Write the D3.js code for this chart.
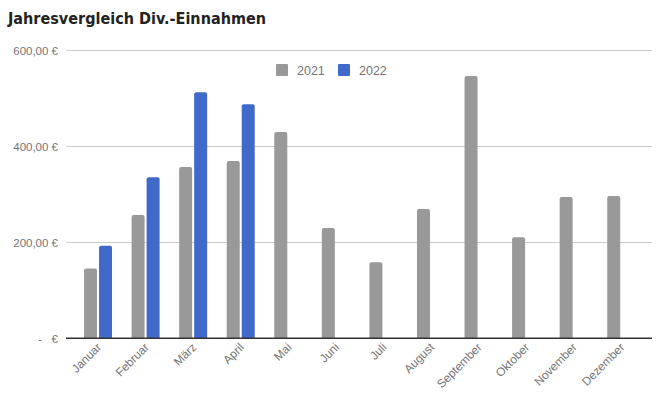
<!DOCTYPE html>
<html><head><meta charset="utf-8">
<script src="https://cdn.jsdelivr.net/npm/d3@7"></script>
<style>
html,body{margin:0;padding:0;background:#fff;}
svg{display:block;}
</style></head>
<body>
<svg id="chart" width="657" height="393"></svg>
<script>
const months = ["Januar","Februar","März","April","Mai","Juni","Juli","August","September","Oktober","November","Dezember"];
const series = ["2021","2022"];
const values2021 = [145,256,356,369,429,229,158,269,546,210,294,296];
const values2022 = [192,335,512,487,null,null,null,null,null,null,null,null];
const yTicks = [0,200,400,600];
const colors = ["#999999","#4169c9"];

const svg = d3.select("#chart");
const fontFam = "'Liberation Sans', Arial, sans-serif";

svg.append("text").attr("x",8).attr("y",24)
  .attr("font-family","'DejaVu Sans', Verdana, sans-serif").attr("font-weight","bold").attr("font-size",15)
  .attr("fill","#222").attr("textLength",258).attr("lengthAdjust","spacingAndGlyphs")
  .text("Jahresvergleich Div.-Einnahmen");

const y = d3.scaleLinear().domain([0,600]).range([338,50]);
const x0 = d3.scaleBand().domain(months).range([74.25,645]).padding(0);
const x1 = d3.scaleBand().domain(series)
  .range([x0.bandwidth()/2-14, x0.bandwidth()/2+14]).paddingInner(2/15);

const fmt = v => v===0 ? "-\u00a0\u00a0\u00a0€" : d3.format(",.2f")(v).replace(/,/g,"X").replace(/\./g,",").replace(/X/g,".") + " €";

// gridlines
const yAxis = d3.axisLeft(y).tickValues(yTicks).tickSize(0).tickFormat(fmt);
const gy = svg.append("g").attr("transform","translate(66,0)").call(yAxis);
gy.select(".domain").remove();
gy.selectAll("text").attr("x",-8).attr("dy","0.35em")
  .attr("font-family",fontFam).attr("font-size",11.5).attr("fill","#757575");
gy.selectAll(".tick").append("line").attr("x1",0).attr("x2",586)
  .attr("stroke", d => d===0 ? "#333" : "#cccccc").attr("stroke-width",1);

const data = months.map((m,i)=>({m, vals:[{s:"2021",v:values2021[i]},{s:"2022",v:values2022[i]}]}));
const groups = svg.append("g").attr("class","bars");
groups.selectAll("g").data(data).join("g")
  .attr("transform", d=>`translate(${x0(d.m)},0)`)
  .selectAll("path").data(d=>d.vals.filter(e=>e.v!=null)).join("path")
  .attr("fill", d=>colors[series.indexOf(d.s)])
  .attr("d", d=>{
    const xx = x1(d.s), w = x1.bandwidth(), yt = y(d.v), yb = y(0), r = 2;
    return `M${xx},${yb}V${yt+r}Q${xx},${yt} ${xx+r},${yt}H${xx+w-r}Q${xx+w},${yt} ${xx+w},${yt+r}V${yb}Z`;
  });
// baseline on top
svg.append("line").attr("x1",66).attr("x2",652).attr("y1",y(0)).attr("y2",y(0))
  .attr("stroke","#333").attr("stroke-width",1);

// x labels
const xAxis = d3.axisBottom(x0).tickSize(0);
const gx = svg.append("g").attr("transform","translate(0,338)").call(xAxis);
gx.select(".domain").remove();
gx.selectAll("text")
  .attr("font-family",fontFam).attr("font-size",11.8).attr("fill","#757575")
  .attr("text-anchor","end").attr("dy",0).attr("y",0)
  .attr("transform","translate(4,10) rotate(-45)");

// legend
const leg = svg.append("g").attr("transform","translate(276,64)");
series.forEach((s,i)=>{
  const g = leg.append("g").attr("transform",`translate(${i*62},0)`);
  g.append("rect").attr("width",12).attr("height",12).attr("rx",1).attr("fill",colors[i]);
  g.append("text").attr("x",21).attr("y",10.5).attr("font-family",fontFam)
    .attr("font-size",12.5).attr("fill","#757575").text(s);
});
</script>
</body></html>
